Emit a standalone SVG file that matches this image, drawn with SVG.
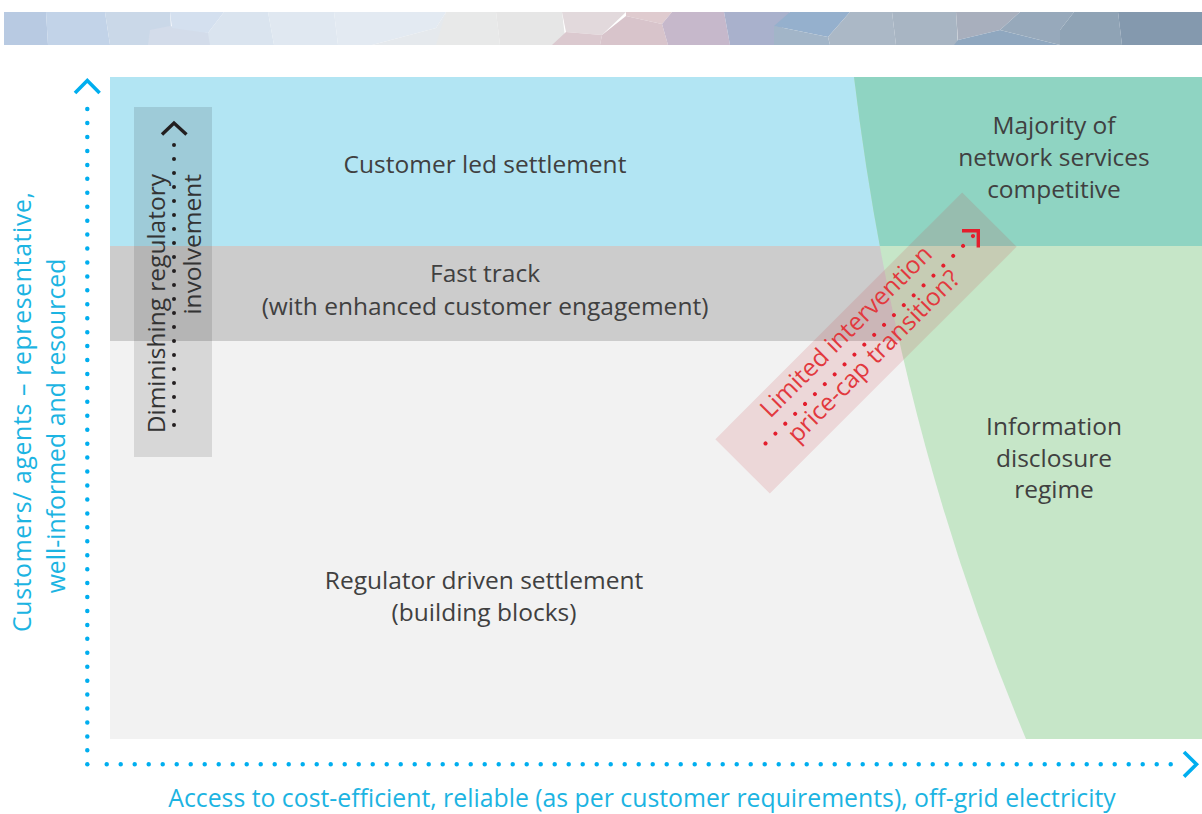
<svg xmlns="http://www.w3.org/2000/svg" width="1202" height="814" viewBox="0 0 1202 814">
<style>
.lbl{font-family:"Open Sans","Noto Sans","DejaVu Sans",sans-serif;font-size:24.5px;fill:#404040;text-anchor:middle}
.axl{font-family:"Open Sans","Noto Sans","DejaVu Sans",sans-serif;font-size:24.8px;fill:#1cb4e2;text-anchor:middle}
.red{font-family:"Open Sans","Noto Sans","DejaVu Sans",sans-serif;font-size:24.5px;fill:#e2393e;text-anchor:middle}
.bdots{fill:none;stroke:#00aeef;stroke-width:4.5;stroke-linecap:round}
.bchev{fill:none;stroke:#00aeef;stroke-width:3.6;stroke-linejoin:miter}
</style>
<defs>
<clipPath id="greenClip"><path d="M854,77 Q896.5,430.7 1026,739 L1202,739 L1202,77 Z"/></clipPath>
</defs>
<rect width="1202" height="814" fill="#ffffff"/>
<g id="banner">
<polygon points="4,12 46,12 48,45 4,45" fill="#b8cae2"/>
<polygon points="46,12 105,12 110,45 48,45" fill="#c2d3e8"/>
<polygon points="105,12 170,12 172,45 110,45" fill="#cad8e8"/>
<polygon points="150,30 170,26 210,33 212,45 148,45" fill="#d3dcea"/>
<polygon points="170,12 224,12 208,33 172,28" fill="#d4e0ef"/>
<polygon points="224,12 268,12 274,45 210,45 208,33" fill="#dae4ef"/>
<polygon points="268,12 334,12 338,45 274,45" fill="#e0e8f1"/>
<polygon points="334,12 446,12 436,28 372,45 338,45" fill="#e3eaf2"/>
<polygon points="372,45 436,28 446,12 440,45" fill="#e5e9ed"/>
<polygon points="446,12 496,12 500,45 436,45" fill="#e8e9e9"/>
<polygon points="496,12 562,12 566,45 500,45" fill="#e6e6e6"/>
<polygon points="562,12 626,12 602,35 566,32" fill="#e2d9dc"/>
<polygon points="566,32 602,35 600,45 552,45" fill="#dbc9cf"/>
<polygon points="626,12 672,12 662,24 626,16" fill="#dfcbcf"/>
<polygon points="626,16 662,24 668,45 600,45 602,35" fill="#d8c4cb"/>
<polygon points="672,12 724,12 730,45 668,45 662,24" fill="#c6b8cb"/>
<polygon points="724,12 790,12 774,45 730,45" fill="#a9b1cc"/>
<polygon points="790,12 850,12 828,37 774,26" fill="#95b0cd"/>
<polygon points="774,26 828,37 830,45 774,45" fill="#a2b5c8"/>
<polygon points="850,12 892,12 896,45 830,45 828,37" fill="#abb8c6"/>
<polygon points="892,12 956,12 958,45 896,45" fill="#a8b5c3"/>
<polygon points="956,12 1020,12 1000,30 958,40" fill="#a8afbd"/>
<polygon points="958,40 1000,30 1060,45 954,45" fill="#8fa7bf"/>
<polygon points="1020,12 1074,12 1060,30 1060,45 1000,30" fill="#97a9bb"/>
<polygon points="1074,12 1118,12 1122,45 1060,45 1060,30" fill="#8fa3b5"/>
<polygon points="1118,12 1202,12 1202,45 1122,45" fill="#8499ae"/>
</g>
<g id="zones">
<rect id="customer-led" x="110" y="77" width="1092" height="169" fill="#b2e5f3"/>
<rect id="fast-track" x="110" y="246" width="1092" height="95" fill="#cccccc"/>
<rect id="regulator-driven" x="110" y="341" width="1092" height="398" fill="#f2f2f2"/>
<g id="competitive-zones">
<path d="M854,77 Q896.5,430.7 1026,739 L1202,739 L1202,77 Z" fill="#c6e6c8"/>
<rect x="840" y="77" width="362" height="169" fill="#8fd4c2" clip-path="url(#greenClip)"/>
</g>
</g>
<g id="diminishing-node">
<rect x="134" y="107" width="78" height="350" fill="#000000" fill-opacity="0.11"/>
<text class="lbl" style="text-anchor:end;fill:#333333" transform="translate(165,174) rotate(-90)"><tspan x="0" y="0">Diminishing regulatory</tspan><tspan x="0" y="36">involvement</tspan></text>
</g>
<g id="transition-node">
<rect x="-174.5" y="-38.5" width="349" height="77" fill="#c83c46" fill-opacity="0.15" transform="translate(866,343) rotate(-45)"/>
<text class="red" transform="translate(866,343) rotate(-45)"><tspan x="-6" y="-14">Limited intervention</tspan><tspan x="-4" y="23">price-cap transition?</tspan></text>
</g>
<g id="labels">
<text class="lbl" x="485" y="173">Customer led settlement</text>
<text class="lbl"><tspan x="485" y="282">Fast track</tspan><tspan x="485" y="315">(with enhanced customer engagement)</tspan></text>
<text class="lbl"><tspan x="484" y="589">Regulator driven settlement</tspan><tspan x="484" y="621">(building blocks)</tspan></text>
<text class="lbl"><tspan x="1054" y="134">Majority of</tspan><tspan x="1054" y="166">network services</tspan><tspan x="1054" y="198">competitive</tspan></text>
<text class="lbl"><tspan x="1054" y="435">Information</tspan><tspan x="1054" y="467">disclosure</tspan><tspan x="1054" y="498">regime</tspan></text>
</g>
<g id="connectors">
<path d="M174,425 V131" fill="none" stroke="#231f20" stroke-width="4" stroke-linecap="round" stroke-dasharray="0 14"/>
<polyline points="162,134.5 174,123 186.5,134.5" fill="none" stroke="#231f20" stroke-width="3.4"/>
<path d="M-142.1,0 H151.3" transform="translate(866,343) rotate(-45)" fill="none" stroke="#e31e2d" stroke-width="4" stroke-linecap="round" stroke-dasharray="0 13.97"/>
<polyline points="962,230.7 978.3,230.7 978.3,247.5" fill="none" stroke="#e31e2d" stroke-width="3.4"/>
<path class="bdots" d="M87.3,764.3 V95.2" stroke-dasharray="0 13.94"/>
<path class="bdots" d="M106.7,764.3 H1184.7" stroke-dasharray="0 14"/>
<polyline class="bchev" points="75,93 87.3,80.5 99.6,93"/>
<polyline class="bchev" points="1184,752 1196.5,764.3 1184,776.6"/>
</g>
<g id="axis-labels">
<text class="axl" x="642" y="807">Access to cost-efficient, reliable (as per customer requirements), off-grid electricity</text>
<text class="axl" transform="rotate(-90)"><tspan x="-412" y="31" textLength="440" lengthAdjust="spacing">Customers/ agents – representative,</tspan><tspan x="-426" y="65">well-informed and resourced</tspan></text>
</g>
</svg>
